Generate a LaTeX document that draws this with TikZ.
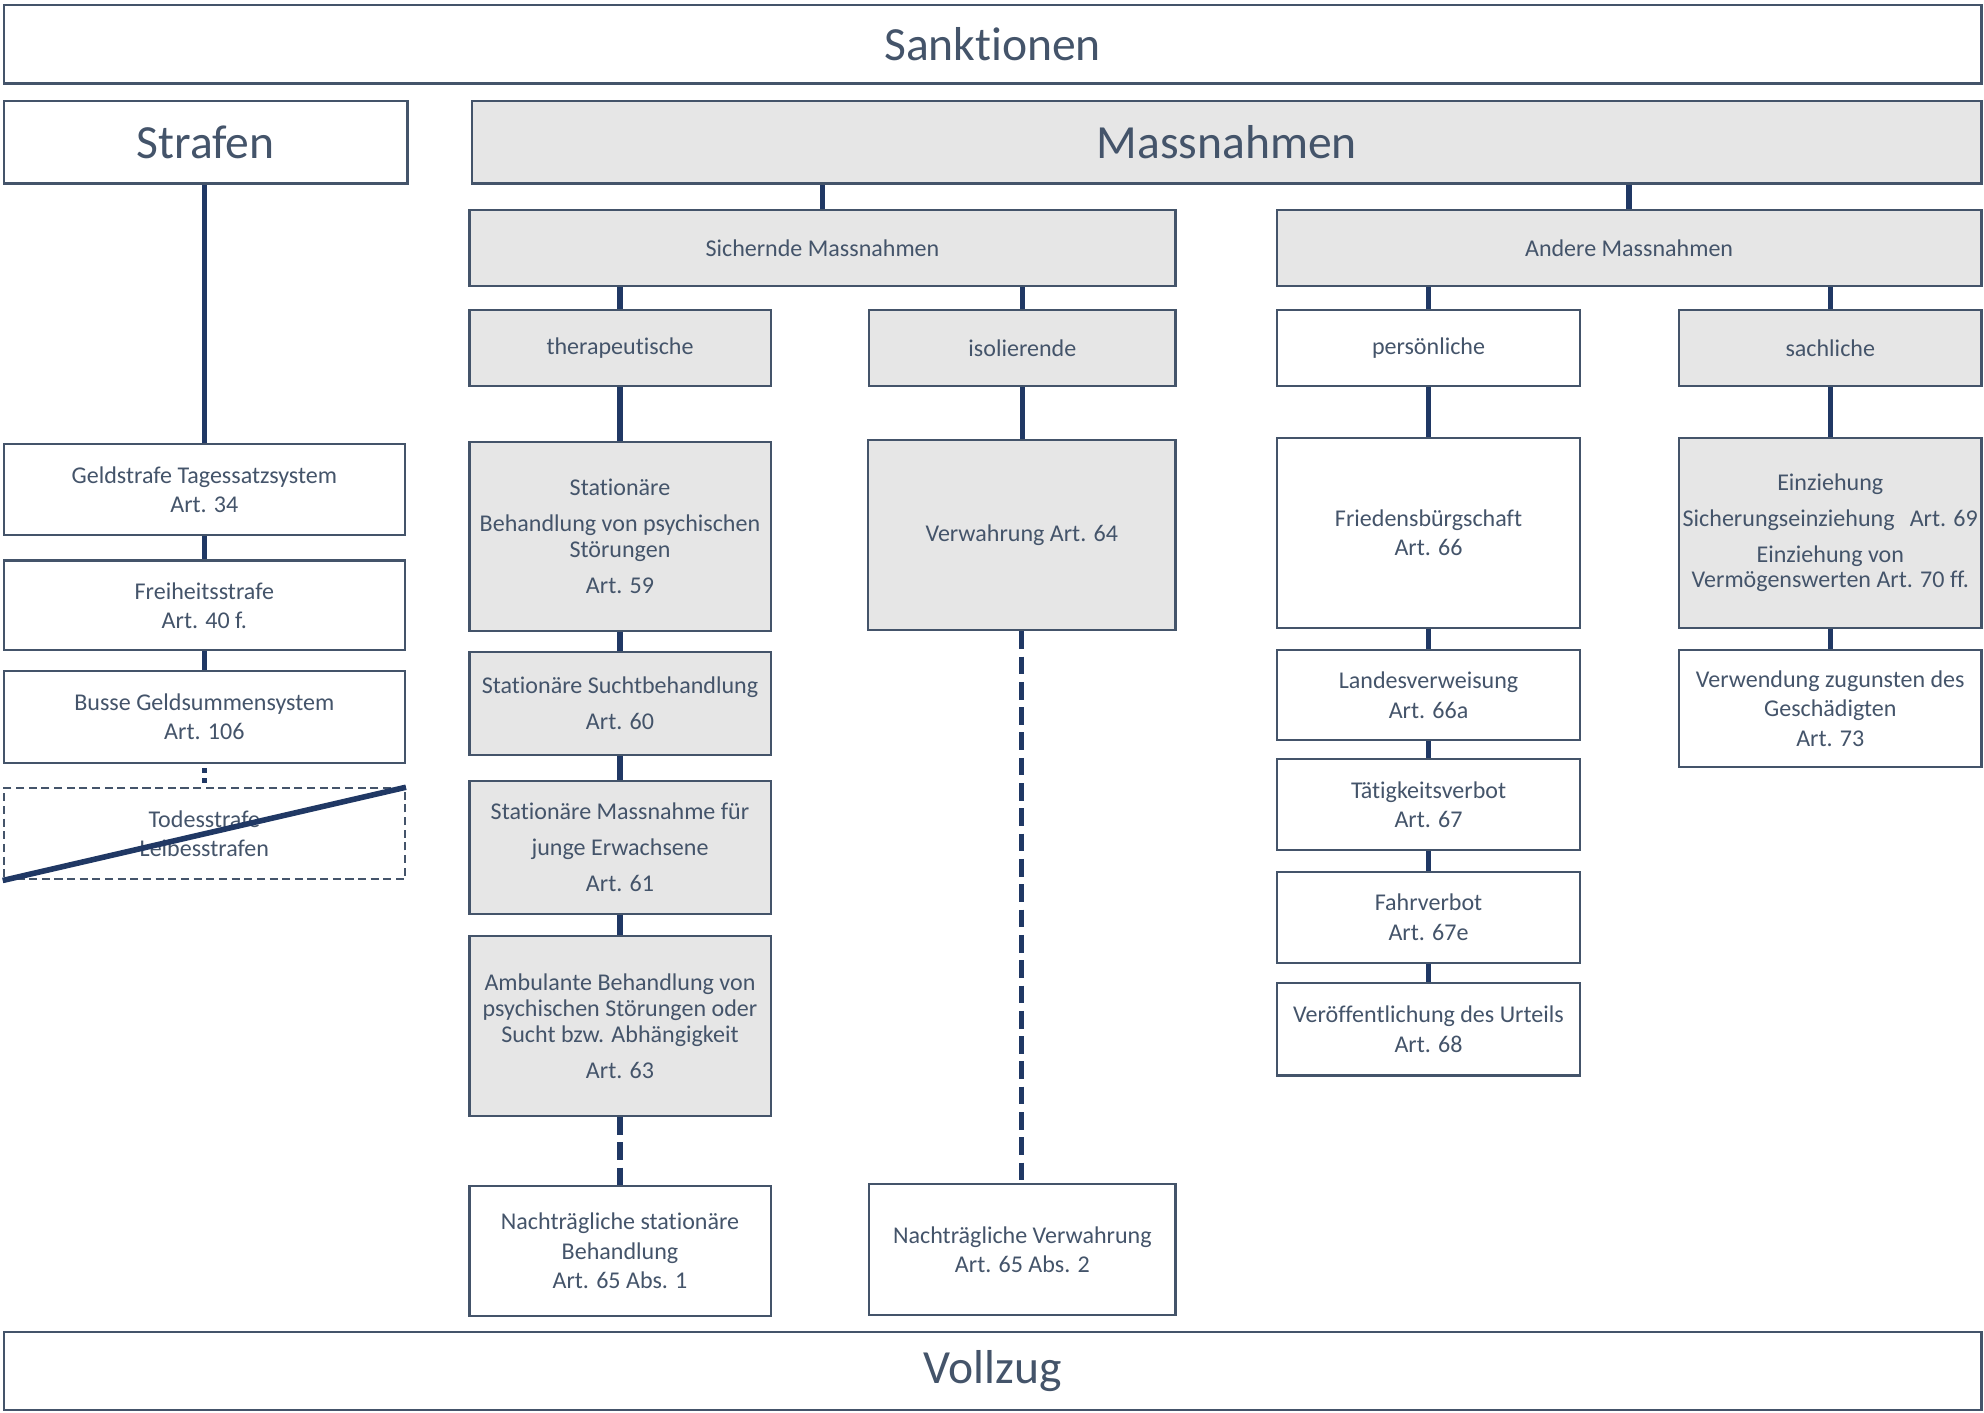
\documentclass[tikz,border=0pt]{standalone}
\usepackage{fontspec}
\setmainfont[Ligatures=NoCommon]{Carlito}
\definecolor{txtc}{HTML}{44546A}
\definecolor{bordc}{HTML}{44546A}
\definecolor{connc}{HTML}{203864}
\definecolor{grayc}{HTML}{E6E6E6}
\begin{document}
\begin{tikzpicture}[x=0.5pt,y=-0.5pt,
  bx/.style={draw=bordc, line width=0.85pt, fill=white, text=txtc, inner sep=0pt, align=center, font=\fontsize{9.5}{11.6}\selectfont},
  gbx/.style={bx, fill=grayc},
  bigtxt/.style={font=\fontsize{18.8}{22}\selectfont},
  conn/.style={draw=connc, line width=2.1pt},
  dconn/.style={conn, dash pattern=on 7pt off 3pt},
  dotconn/.style={conn, dash pattern=on 1.8pt off 2.2pt, dash phase=2.4pt},
]
\useasboundingbox (0,0) rectangle (1568,1116);

% top level
\node[bx, bigtxt, minimum width=781.5pt, minimum height=31pt] (sank) at (784.5,35) {Sanktionen};
\node[bx, bigtxt, minimum width=159.5pt, minimum height=32.5pt] (straf) at (162.5,112.5) {Strafen};
\node[gbx, bigtxt, minimum width=596.5pt, minimum height=32.5pt] (massn) at (969.5,112.5) {Massnahmen};
\node[bx, bigtxt, minimum width=781.5pt, minimum height=30.5pt] (vollz) at (784.5,1083.5) {Vollzug};

% second level
\node[gbx, minimum width=279pt, minimum height=30pt] (sich) at (650,196) {Sichernde Massnahmen};
\node[gbx, minimum width=278.5pt, minimum height=30pt] (andere) at (1287.5,196) {Andere Massnahmen};

\node[gbx, minimum width=119pt, minimum height=30pt] (thera) at (490,275) {therapeutische};
\node[gbx, minimum width=121pt, minimum height=30pt] (isol) at (808,275) {isolierende};
\node[bx, minimum width=120pt, minimum height=30pt] (pers) at (1129,275) {persönliche};
\node[gbx, minimum width=119.5pt, minimum height=30pt] (sach) at (1446.5,275) {sachliche};

% Strafen column
\node[bx, minimum width=158.5pt, minimum height=36pt] (geld) at (161.5,387) {Geldstrafe Tagessatzsystem\\ Art. 34};
\node[bx, minimum width=158.5pt, minimum height=35.5pt] (frei) at (161.5,478.5) {Freiheitsstrafe\\ Art. 40 f.};
\node[bx, minimum width=158.5pt, minimum height=36.5pt] (busse) at (161.5,566.5) {Busse Geldsummensystem\\ Art. 106};
\node[bx, dash pattern=on 3.2pt off 1.8pt, minimum width=158.5pt, minimum height=36pt] (todes) at (161.5,659) {Todesstrafe\\ Leibesstrafen};

% therapeutische column
\node[gbx, minimum width=119pt, minimum height=75pt] (statb) at (490,424) {Stationäre\\[2.6pt] Behandlung von psychischen\\[-1.4pt] Störungen\\[2.6pt] Art. 59};
\node[gbx, minimum width=119pt, minimum height=41pt] (sucht) at (490,556) {Stationäre Suchtbehandlung\\[2.6pt] Art. 60};
\node[gbx, minimum width=119pt, minimum height=52.5pt] (junge) at (490,669.5) {Stationäre Massnahme für\\[2.6pt] junge Erwachsene\\[2.6pt] Art. 61};
\node[gbx, minimum width=119pt, minimum height=71pt] (ambu) at (490,811) {Ambulante Behandlung von\\[-1.4pt] psychischen Störungen oder\\[-1.4pt] Sucht bzw. Abhängigkeit\\[2.6pt] Art. 63};
\node[bx, minimum width=119pt, minimum height=51.5pt] (nstat) at (490,988.5) {Nachträgliche stationäre\\ Behandlung\\ Art. 65 Abs. 1};

% isolierende column
\node[gbx, minimum width=121.5pt, minimum height=75pt] (verw) at (807.5,423) {Verwahrung Art. 64};
\node[bx, minimum width=121pt, minimum height=51.5pt] (nverw) at (808,987.5) {Nachträgliche Verwahrung\\ Art. 65 Abs. 2};

% persönliche column
\node[bx, minimum width=120pt, minimum height=75pt] (fried) at (1129,421) {Friedensbürgschaft\\ Art. 66};
\node[bx, minimum width=120pt, minimum height=35.5pt] (landes) at (1129,549.5) {Landesverweisung\\ Art. 66a};
\node[bx, minimum width=120pt, minimum height=36pt] (taet) at (1129,636) {Tätigkeitsverbot\\ Art. 67};
\node[bx, minimum width=120pt, minimum height=36pt] (fahr) at (1129,725) {Fahrverbot\\ Art. 67e};
\node[bx, minimum width=120pt, minimum height=36.5pt] (veroef) at (1129,813.5) {Veröffentlichung des Urteils\\ Art. 68};

% sachliche column
\node[gbx, minimum width=119.5pt, minimum height=75pt] (einz) at (1446.5,421) {Einziehung\\[2.6pt] Sicherungseinziehung\hspace{6pt}Art. 69\\[2.6pt] Einziehung von\\[-1.4pt] Vermögenswerten Art. 70 ff.};
\node[bx, minimum width=119.5pt, minimum height=46pt] (verwend) at (1446.5,560) {Verwendung zugunsten des\\ Geschädigten\\ Art. 73};

% connectors
\draw[conn] (sich.north) -- (sich.north |- massn.south);
\draw[conn] (andere.north) -- (andere.north |- massn.south);
\draw[conn] (thera.north) -- (thera.north |- sich.south);
\draw[conn] (isol.north) -- (isol.north |- sich.south);
\draw[conn] (pers.north) -- (pers.north |- andere.south);
\draw[conn] (sach.north) -- (sach.north |- andere.south);

\draw[conn] (geld.north) -- (geld.north |- straf.south);
\draw[conn] (geld.south) -- (frei.north);
\draw[conn] (frei.south) -- (busse.north);
\draw[dotconn] (busse.south) -- (todes.north);
\draw[draw=connc, line width=2.2pt] (todes.south west) -- (todes.north east);

\draw[conn] (thera.south) -- (statb.north);
\draw[conn] (statb.south) -- (sucht.north);
\draw[conn] (sucht.south) -- (junge.north);
\draw[conn] (junge.south) -- (ambu.north);
\draw[dconn] (ambu.south) -- (nstat.north);

\draw[conn] (isol.south) -- (isol.south |- verw.north);
\draw[dconn] (verw.south) -- (verw.south |- nverw.north);

\draw[conn] (pers.south) -- (fried.north);
\draw[conn] (fried.south) -- (landes.north);
\draw[conn] (landes.south) -- (taet.north);
\draw[conn] (taet.south) -- (fahr.north);
\draw[conn] (fahr.south) -- (veroef.north);

\draw[conn] (sach.south) -- (einz.north);
\draw[conn] (einz.south) -- (verwend.north);
\end{tikzpicture}
\end{document}
